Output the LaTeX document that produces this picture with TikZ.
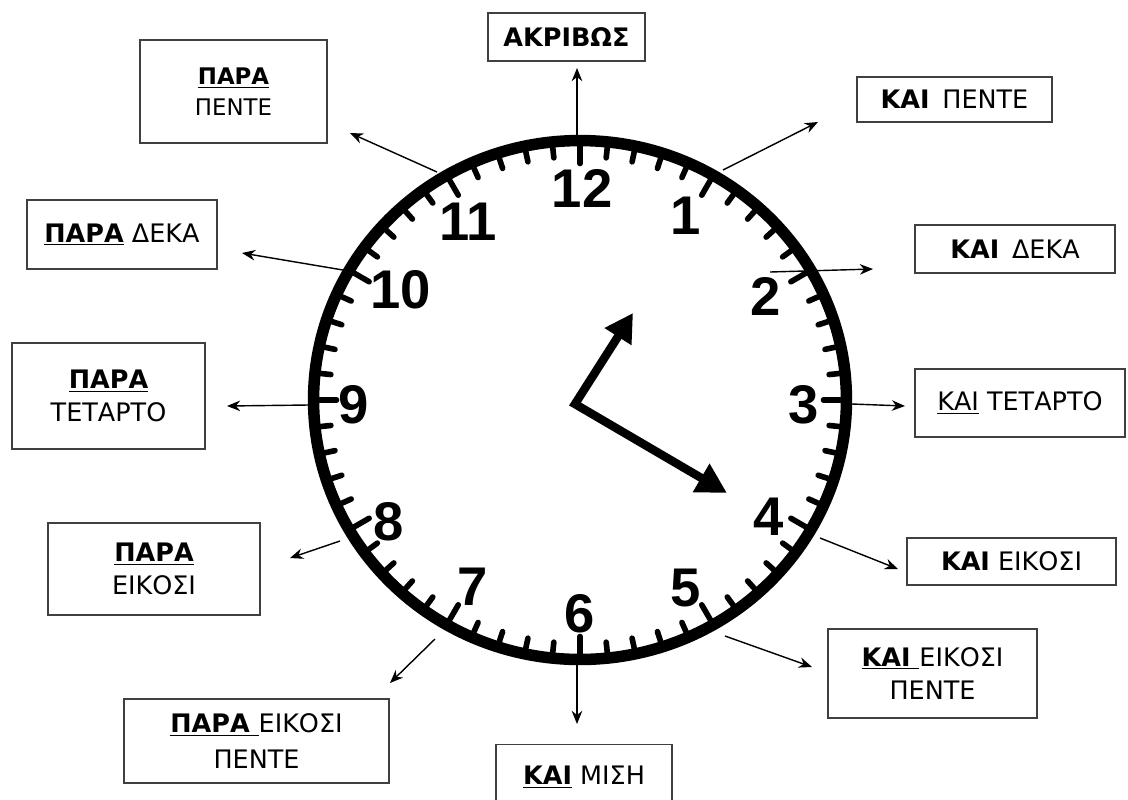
\documentclass[tikz,border=0pt]{standalone}
\usepackage{fontspec}
\setmainfont{DejaVu Sans}
\newfontfamily\numfont{Liberation Sans}
\usetikzlibrary{arrows.meta}
\begin{document}
\begin{tikzpicture}[x=0.02cm,y=-0.02cm,
  lbl/.style={draw=black!75, line width=0.8pt, align=center, inner sep=0pt,
    font=\fontsize{14.5}{19}\selectfont},
  conn/.style={line width=0.8pt, -{Stealth[length=7.5pt,width=6pt]}},
  num/.style={font=\numfont\bfseries\fontsize{31}{31}\selectfont, inner sep=0pt},
  tick/.style={line width=3.2pt, line cap=round},
  hand/.style={line width=4.8pt, line join=miter}]
\useasboundingbox (0,0) rectangle (1128,799);
\clip (0,0) rectangle (1128,799);

% ---- clock face ----
\draw[line width=0.23cm] (580,400) ellipse [x radius=5.33cm, y radius=5.19cm];
\foreach \i in {0,...,59}{
  \pgfmathsetmacro{\a}{90-6*\i}
  \pgfmathsetmacro{\L}{ifthenelse(mod(\i,5)==0,23,16)}
  \draw[tick] ({580+266.5*cos(\a)},{400-259.5*sin(\a)}) --
              ({580+(266.5-\L)*cos(\a)},{400-(259.5-\L)*sin(\a)});
}
\node[num] (n12) at (582,188) {12};
\node[num] (n1)  at (686,216) {1};
\node[num] (n2)  at (766,296) {2};
\node[num] (n3)  at (804,405) {3};
\node[num] (n4)  at (769,517) {4};
\node[num] (n5)  at (686,588) {5};
\node[num] (n6)  at (580,614) {6};
\node[num] (n7)  at (473,587) {7};
\node[num] (n8)  at (389,522) {8};
\node[num] (n9)  at (354,405) {9};
\node[num] (n10) at (401,290) {10};
\node[num] (n11) at (468,222) {11};

% ---- hands ----
\coordinate (pv) at (575,404);
\coordinate (ht) at (633,313);
\coordinate (mt) at (727,493);
\draw[hand, {Triangle[length=0.56cm,width=0.6cm]}-{Triangle[length=0.6cm,width=0.62cm]}]
  (ht) -- (pv) -- (mt);

% ---- label boxes ----
\node[lbl, minimum width=3.14cm, minimum height=0.96cm] (acc) at (566.5,37) {\textbf{ΑΚΡΙΒΩΣ}};
\node[lbl, minimum width=3.74cm, minimum height=2.06cm, font=\fontsize{13}{17.5}\selectfont] (pp) at (233.5,91.5) {\underline{\textbf{ΠΑΡΑ}}\\ΠΕΝΤΕ};
\node[lbl, minimum width=3.8cm, minimum height=1.38cm] (pd) at (122,234.5) {\underline{\textbf{ΠΑΡΑ}} ΔΕΚΑ};
\node[lbl, minimum width=3.86cm, minimum height=2.12cm] (pt) at (108.5,396) {\underline{\textbf{ΠΑΡΑ}}\\ΤΕΤΑΡΤΟ};
\node[lbl, minimum width=4.24cm, minimum height=1.84cm] (pe) at (154,569) {\underline{\textbf{ΠΑΡΑ}}\\ΕΙΚΟΣΙ};
\node[lbl, minimum width=5.3cm, minimum height=1.68cm, font=\fontsize{14.5}{20}\selectfont] (pep) at (256.5,741) {\underline{\textbf{ΠΑΡΑ }}ΕΙΚΟΣΙ\\ΠΕΝΤΕ};
\node[lbl, minimum width=3.52cm, minimum height=1.3cm, anchor=north] (km) at (584,744) {\underline{\textbf{ΚΑΙ}} ΜΙΣΗ};
\node[lbl, minimum width=4.18cm, minimum height=1.78cm] (kep) at (932.5,673.5) {\underline{\textbf{ΚΑΙ }}ΕΙΚΟΣΙ\\ΠΕΝΤΕ};
\node[lbl, minimum width=4.18cm, minimum height=0.94cm] (ke) at (1011.5,561.5) {\textbf{ΚΑΙ} ΕΙΚΟΣΙ};
\node[lbl, minimum width=4.2cm, minimum height=1.36cm] (kt) at (1020,403) {\underline{ΚΑΙ} ΤΕΤΑΡΤΟ};
\node[lbl, minimum width=4.0cm, minimum height=0.96cm] (kd) at (1015,249) {\textbf{ΚΑΙ}\enspace ΔΕΚΑ};
\node[lbl, minimum width=3.9cm, minimum height=0.9cm] (kp) at (954.5,99.5) {\textbf{ΚΑΙ}\enspace ΠΕΝΤΕ};

% ---- connectors ----
\coordinate (s12) at (577,135); \coordinate (e12) at (577,68);
\coordinate (s11) at (437,172); \coordinate (e11) at (350,133);
\coordinate (s10) at (343,270); \coordinate (e10) at (242,253);
\coordinate (s9)  at (308,405); \coordinate (e9)  at (227,406);
\coordinate (s8)  at (340,541); \coordinate (e8)  at (290,558);
\coordinate (s7)  at (435,639); \coordinate (e7)  at (390,683);
\coordinate (s6)  at (577,665); \coordinate (e6)  at (577,724);
\coordinate (s5)  at (725,636); \coordinate (e5)  at (812,667);
\coordinate (s4)  at (820,538); \coordinate (e4)  at (898,569);
\coordinate (s3)  at (852,404); \coordinate (e3)  at (905,406);
\coordinate (s2)  at (770,272); \coordinate (e2)  at (873,269);
\coordinate (s1)  at (723,170); \coordinate (e1)  at (818,122);
\foreach \k in {1,...,12}{\draw[conn] (s\k) -- (e\k);}
\end{tikzpicture}
\end{document}
